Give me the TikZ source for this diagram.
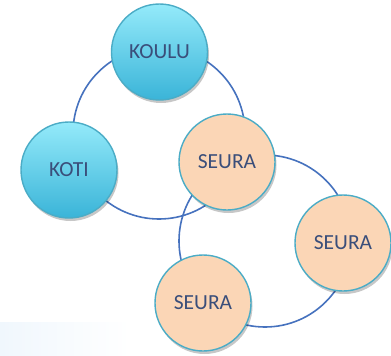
\documentclass[tikz,border=0pt]{standalone}
\usepackage{fontspec}
\setmainfont{Carlito}
\usetikzlibrary{shadows}
\definecolor{ringc}{RGB}{70,114,190}
\definecolor{edgec}{RGB}{75,172,198}
\definecolor{bluetop}{RGB}{148,234,250}
\definecolor{bluebot}{RGB}{58,180,216}
\definecolor{peach}{RGB}{251,214,182}
\definecolor{textc}{RGB}{58,78,122}
\definecolor{bandc}{RGB}{240,247,253}
\tikzset{
  ring/.style={circle, draw=ringc, line width=1.6pt, minimum size=172pt, inner sep=0pt},
  bubble/.style={circle, draw=edgec, line width=1.4pt, minimum size=96pt, inner sep=0pt,
    text=textc, font=\fontsize{21.5}{25}\selectfont,
    drop shadow={shadow xshift=1.5pt, shadow yshift=-3pt, opacity=0.22, fill=black}},
  bluebubble/.style={bubble, top color=bluetop, bottom color=bluebot},
  peachbubble/.style={bubble, fill=peach}
}
\begin{document}
\begin{tikzpicture}[x=1pt,y=-1pt]
\useasboundingbox (0,0) rectangle (391,356);
\fill[left color=bandc, right color=white] (0,322) rectangle (130,356);
\node[ring] (ringA) at (159,133) {};
\node[ring] (ringB) at (265,241) {};
\node[bluebubble] (koulu) at (159.5,52) {KOULU};
\node[bluebubble] (koti) at (69,170) {KOTI};
\node[peachbubble] (seuraA) at (227,162) {SEURA};
\node[peachbubble] (seuraB) at (343,243) {SEURA};
\node[peachbubble] (seuraC) at (203,303) {SEURA};
\end{tikzpicture}
\end{document}
